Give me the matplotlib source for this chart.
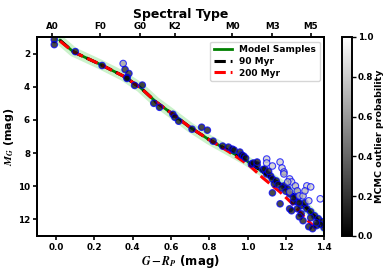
import numpy as np
import matplotlib
matplotlib.use("Agg")
import matplotlib.pyplot as plt

plt.rcParams['mathtext.fontset'] = 'stix'
plt.rcParams['font.weight'] = 'bold'
plt.rcParams['axes.labelweight'] = 'bold'
plt.rcParams['axes.linewidth'] = 1.4

# isochrones (G-Rp, M_G)
iso90_color = [0.02, 0.09, 0.23, 0.35, 0.44, 0.52, 0.62, 0.70, 0.80, 0.90, 1.00, 1.10, 1.20, 1.30, 1.40]
iso90_mag = [1.2, 1.9, 2.65, 3.35, 4.05, 4.9, 5.75, 6.45, 7.2, 7.85, 8.5, 9.3, 10.1, 11.2, 12.45]
iso200_color = [0.02, 0.09, 0.23, 0.35, 0.44, 0.52, 0.62, 0.70, 0.80, 0.90, 1.01, 1.08, 1.17, 1.23, 1.30, 1.37]
iso200_mag = [1.25, 1.9, 2.65, 3.35, 4.05, 4.9, 5.75, 6.45, 7.2, 7.9, 8.75, 9.5, 10.35, 11.0, 11.9, 12.7]

# cluster members: colour, abs mag, outlier probability
star_color = [-0.01, -0.01, 0.10, 0.24, 0.35, 0.36, 0.38, 0.37, 0.37, 0.41, 0.45,
              0.51, 0.54, 0.61, 0.62, 0.64, 0.71, 0.76, 0.79, 0.82, 0.87, 0.90,
              0.92, 0.93, 0.96, 0.97, 0.98, 0.99, 1.02, 1.03, 1.05, 1.05, 1.08,
              1.09, 1.10, 1.12, 1.13, 1.14, 1.15, 1.19, 1.21, 1.22, 1.25, 1.26,
              1.28, 1.31, 1.33, 1.35, 1.37, 1.24, 1.26, 1.28, 1.22, 1.23, 1.27,
              1.29, 1.32, 1.34, 1.36, 1.39, 1.13, 1.17, 1.40, 1.38, 1.30, 1.16,
              1.18, 1.20, 1.24, 1.27, 1.33, 1.36, 1.11,
              1.10, 1.10, 1.13, 1.17, 1.18, 1.19, 1.19, 1.22, 1.23, 1.21, 1.25,
              1.26, 1.31, 1.33, 1.27, 1.29, 1.32, 1.38, 1.22, 1.30]
star_mag = [1.16, 1.46, 1.88, 2.72, 2.6, 2.96, 3.2, 3.44, 3.5, 3.92, 3.9,
            5.0, 5.24, 5.66, 5.84, 6.08, 6.56, 6.44, 6.62, 7.28, 7.58, 7.64,
            7.76, 7.82, 7.94, 8.12, 8.18, 8.3, 8.66, 8.6, 8.72, 8.54, 9.0,
            8.96, 9.26, 9.38, 9.56, 9.86, 9.68, 9.98, 10.16, 10.46, 10.64, 10.94,
            11.18, 11.36, 11.54, 11.78, 11.96, 10.94, 11.36, 11.66, 11.36, 11.48, 11.84,
            12.08, 12.44, 12.56, 12.38, 12.14, 10.4, 11.06, 12.5, 12.3, 11.0, 9.9,
            10.1, 10.3, 10.7, 11.0, 11.9, 12.2, 9.1,
            8.36, 8.6, 8.78, 8.54, 8.9, 9.14, 9.26, 9.56, 9.74, 9.74, 9.98,
            10.28, 9.98, 10.04, 10.58, 10.58, 10.88, 10.76, 10.34, 10.28]
star_prob = [0.05, 0.05, 0.05, 0.05, 0.6, 0.1, 0.1, 0.05, 0.05, 0.05, 0.05,
             0.05, 0.05, 0.05, 0.05, 0.05, 0.05, 0.05, 0.05, 0.05, 0.05, 0.05,
             0.05, 0.05, 0.05, 0.05, 0.05, 0.05, 0.05, 0.05, 0.05, 0.05, 0.05,
             0.05, 0.05, 0.05, 0.05, 0.05, 0.05, 0.05, 0.05, 0.05, 0.05, 0.05,
             0.05, 0.05, 0.05, 0.05, 0.05, 0.05, 0.05, 0.05, 0.05, 0.05, 0.05,
             0.05, 0.05, 0.05, 0.05, 0.05, 0.05, 0.05, 0.05, 0.05, 0.05, 0.1,
             0.1, 0.1, 0.1, 0.1, 0.1, 0.1, 0.1,
             0.8, 0.8, 0.8, 0.8, 0.8, 0.7, 0.7, 0.8, 0.8, 0.7, 0.7,
             0.6, 0.8, 0.8, 0.7, 0.7, 0.8, 0.9, 0.6, 0.7]

spt_labels = ['A0', 'F0', 'G0', 'K2', 'M0', 'M3', 'M5']
spt_color = [-0.02, 0.23, 0.44, 0.62, 0.92, 1.13, 1.33]

fig = plt.figure(figsize=(3.9, 2.7), dpi=100)
ax = fig.add_axes([0.095, 0.126, 0.736, 0.737])
cax = fig.add_axes([0.877, 0.126, 0.026, 0.737])

# model samples: broad faint band plus median line
ax.plot(iso90_color, iso90_mag, color='limegreen', lw=7, alpha=0.25, zorder=1)
ax.plot(iso90_color, iso90_mag, color='green', lw=2, zorder=2, label='Model Samples')
ax.plot(iso90_color, iso90_mag, color='black', lw=2.2, ls='--', zorder=3, label='90 Myr')
ax.plot(iso200_color, iso200_mag, color='red', lw=2.2, ls='--', zorder=4, label='200 Myr')

sc = ax.scatter(star_color, star_mag, c=star_prob, cmap='gray', vmin=0, vmax=1,
                s=22, edgecolors='blue', linewidths=0.8, alpha=0.75, zorder=5)

ax.set_xlim(-0.1, 1.4)
ax.set_ylim(13, 1)
ax.set_xlabel('$G-R_P$ (mag)', fontsize=8.5, labelpad=1)
ax.set_ylabel('$M_G$ (mag)', fontsize=8, labelpad=1)
ax.tick_params(labelsize=6.3, width=1.2, length=3, pad=2)
for lab in ax.get_xticklabels() + ax.get_yticklabels():
    lab.set_fontweight('bold')

top = ax.twiny()
top.set_xlim(ax.get_xlim())
top.set_xticks(spt_color)
top.set_xticklabels(spt_labels, fontsize=6.3, fontweight='bold')
top.tick_params(width=1.2, length=3, pad=1)
top.set_xlabel('Spectral Type', fontsize=9, fontweight='bold', labelpad=3)

leg = ax.legend(loc='upper right', handlelength=2, borderpad=0.4,
                labelspacing=0.3, prop={'weight': 'bold', 'size': 6.5})

cb = fig.colorbar(sc, cax=cax)
cb.solids.set_alpha(1)
cb.set_label('MCMC outlier probability', fontsize=6.8, fontweight='bold', labelpad=1)
cb.ax.tick_params(labelsize=6.3, width=1, length=3, pad=1)
for lab in cb.ax.get_yticklabels():
    lab.set_fontweight('bold')

fig.savefig('out.png', dpi=100)
